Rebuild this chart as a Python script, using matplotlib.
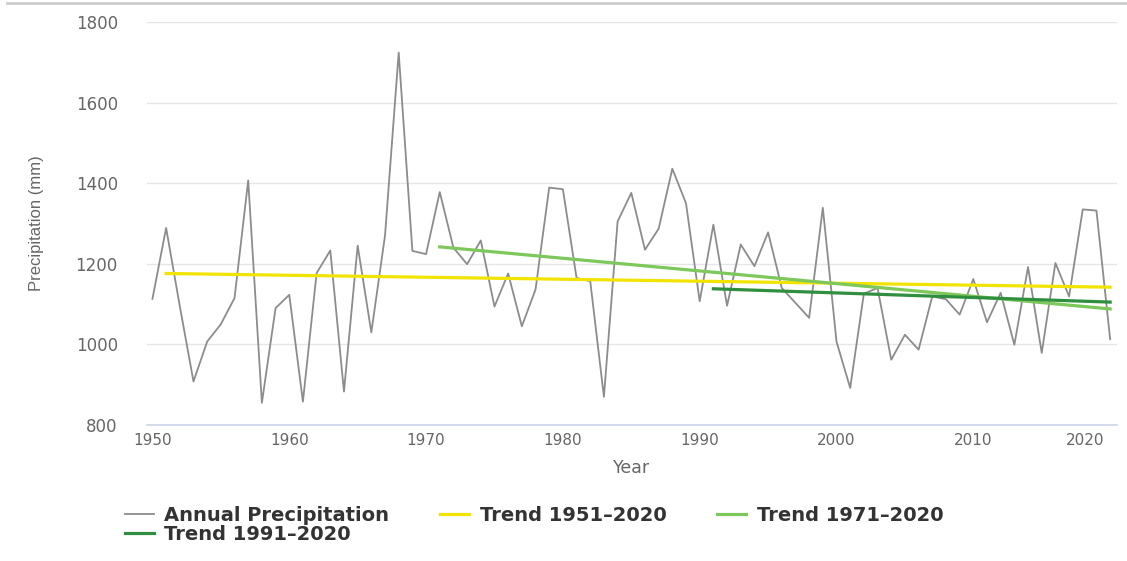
import matplotlib.pyplot as plt
from matplotlib.lines import Line2D
from matplotlib.transforms import ScaledTranslation

# annual precipitation totals, mm
years = list(range(1950, 2021))
precip = [1113, 1289, 1095, 908, 1007, 1050, 1115, 1407, 855, 1090,
          1123, 858, 1177, 1233, 883, 1245, 1030, 1270, 1724, 1232,
          1224, 1378, 1240, 1199, 1258, 1094, 1176, 1045, 1136, 1389,
          1385, 1165, 1157, 870, 1305, 1376, 1235, 1287, 1436, 1350,
          1107, 1297, 1096, 1248, 1194, 1278, 1140, 1103, 1066, 1339,
          1007, 892, 1126, 1140, 962, 1024, 987, 1119, 1112, 1074,
          1162, 1055, 1128, 999, 1192, 979, 1202, 1119, 1335, 1332,
          1013]

# linear trends (start/end values)
trend_labels = ["Trend 1951\u20132020", "Trend 1971\u20132020", "Trend 1991\u20132020"]
trend_years = [[1951, 2020], [1971, 2020], [1991, 2020]]
trend_values = [[1176, 1142], [1242, 1088], [1138, 1105]]
trend_colors = ["#f2e400", "#7cc85a", "#2f8f3e"]

fig = plt.figure(figsize=(11.27, 5.61), dpi=100)
ax = fig.add_axes([0.1304, 0.2424, 0.8607, 0.7184])

line_main, = ax.plot(years, precip, color="#8c8c8c", lw=1.3,
                     label="Annual Precipitation", zorder=3)
trend_handles = []
for yrs, vals, lab, col in zip(trend_years, trend_values, trend_labels, trend_colors):
    h, = ax.plot(yrs, vals, color=col, lw=2.3, label=lab, zorder=4)
    trend_handles.append(h)

ax.set_xlim(1949.6, 2020.5)
ax.set_ylim(800, 1800)
ax.set_xticks(range(1950, 2021, 10))
ax.set_yticks(range(800, 1801, 200))

ax.yaxis.grid(True, color="#e6e6e6", lw=1)
ax.set_axisbelow(True)
for s in ["top", "right", "left"]:
    ax.spines[s].set_visible(False)
ax.spines["bottom"].set_color("#ccd6eb")
ax.spines["bottom"].set_linewidth(1.2)

ax.tick_params(axis="x", length=0, pad=6, labelsize=11, labelcolor="#666666")
ax.tick_params(axis="y", length=0, pad=21, labelsize=12, labelcolor="#666666")

# keep the last year label inside the panel
last = ax.get_xticklabels()[-1]
last.set_horizontalalignment("right")
last.set_transform(last.get_transform() + ScaledTranslation(-6 / 100, 0, fig.dpi_scale_trans))

ax.set_xlabel("Year", fontsize=12.5, color="#666666", labelpad=8)
ax.set_ylabel("Precipitation (mm)", fontsize=12, color="#666666",
              family=["Liberation Sans", "DejaVu Sans"], labelpad=23)

# top border of the panel
fig.add_artist(Line2D([0.006, 1.0], [0.994, 0.994], color="#cccccc", lw=2,
                      transform=fig.transFigure))

# column-major order so the fourth entry wraps under the first
handles = [line_main, trend_handles[2], trend_handles[0], trend_handles[1]]
leg = fig.legend(handles=handles, labels=[h.get_label() for h in handles],
                 ncol=3, loc="upper left", bbox_to_anchor=(0.095, 0.13),
                 frameon=False, handlelength=1.5, handletextpad=0.55,
                 columnspacing=2.6, labelspacing=0.0,
                 prop={"weight": "bold", "size": 14})
for t in leg.get_texts():
    t.set_color("#333333")

fig.savefig("out.png", dpi=100)
